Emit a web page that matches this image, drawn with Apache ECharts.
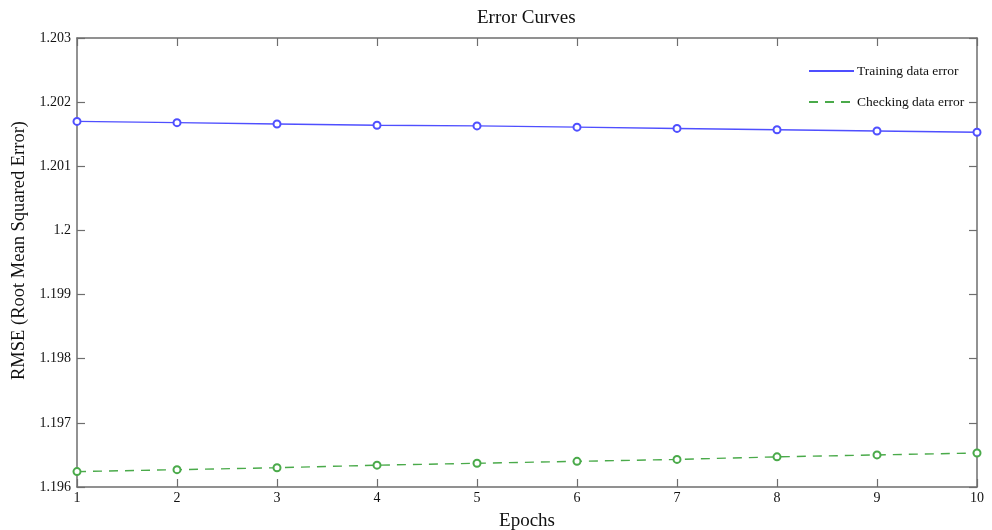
<!DOCTYPE html>
<html>
<head>
<meta charset="utf-8">
<script src="https://cdn.jsdelivr.net/npm/echarts@6/dist/echarts.min.js"></script>
<style>
  html, body { margin: 0; padding: 0; background: #fff; }
  #chart { width: 992px; height: 530px; }
</style>
</head>
<body>
<div id="chart"></div>
<script>
// Epoch numbers and RMSE per epoch
const epochs = [1, 2, 3, 4, 5, 6, 7, 8, 9, 10];
const trainingError = [1.20170, 1.20168, 1.20166, 1.20164, 1.20163, 1.20161, 1.20159, 1.20157, 1.20155, 1.20153];
const checkingError = [1.19624, 1.19627, 1.19630, 1.19634, 1.19637, 1.19640, 1.19643, 1.19647, 1.19650, 1.19653];
const yTicks = [1.196, 1.197, 1.198, 1.199, 1.2, 1.201, 1.202, 1.203];

const serif = '"Liberation Serif", "Times New Roman", serif';
const axisColor = '#6e6e6e';

function fmtY(v) {
  return String(parseFloat(v.toFixed(3)));
}

const chart = echarts.init(document.getElementById('chart'));
const frameAxisCommon = {
  axisLine: { show: true, lineStyle: { color: axisColor, width: 1.5 } },
  axisTick: { show: true, inside: true, length: 8, lineStyle: { color: axisColor, width: 1.2 } },
  splitLine: { show: false }
};

chart.setOption({
  animation: false,
  backgroundColor: '#fff',
  title: {
    text: 'Error Curves',
    left: 472,
    top: 4,
    textStyle: { fontFamily: serif, fontSize: 19, fontWeight: 'normal', color: '#111' }
  },
  legend: {
    orient: 'vertical',
    left: 803,
    top: 59,
    itemWidth: 45,
    itemHeight: 14,
    itemGap: 17,
    itemStyle: { opacity: 0 },
    textStyle: { fontFamily: serif, fontSize: 13.5, color: '#111', padding: [0, 0, 0, -2] },
    data: ['Training data error', 'Checking data error']
  },
  grid: { left: 77, right: 15, top: 38, bottom: 43, outerBoundsMode: 'none' },
  xAxis: [
    Object.assign({
      type: 'value', position: 'bottom', min: 1, max: 10, interval: 1,
      name: 'Epochs', nameLocation: 'middle', nameGap: 25,
      nameTextStyle: { fontFamily: serif, fontSize: 19, color: '#111' },
      axisLabel: { fontFamily: serif, fontSize: 14, color: '#111', margin: 4 }
    }, frameAxisCommon),
    Object.assign({
      type: 'value', position: 'top', min: 1, max: 10, interval: 1,
      axisLabel: { show: false }
    }, frameAxisCommon)
  ],
  yAxis: [
    Object.assign({
      type: 'value', position: 'left', min: yTicks[0], max: yTicks[yTicks.length - 1], interval: 0.001,
      name: 'RMSE (Root Mean Squared Error)', nameLocation: 'middle', nameGap: 45,
      nameTextStyle: { fontFamily: serif, fontSize: 18.5, color: '#111', padding: [0, 0, 0, 24] },
      axisLabel: { fontFamily: serif, fontSize: 14, color: '#111', margin: 6, formatter: fmtY }
    }, frameAxisCommon),
    Object.assign({
      type: 'value', position: 'right', min: yTicks[0], max: yTicks[yTicks.length - 1], interval: 0.001,
      axisLabel: { show: false }
    }, frameAxisCommon)
  ],
  series: [
    {
      name: 'Training data error',
      type: 'line',
      data: epochs.map((e, i) => [e, trainingError[i]]),
      symbol: 'emptyCircle',
      symbolSize: 7,
      showAllSymbol: true,
      color: '#4f4fff',
      lineStyle: { color: '#4f4fff', width: 1.4 },
      itemStyle: { color: '#4f4fff', borderWidth: 1.1 }
    },
    {
      name: 'Checking data error',
      type: 'line',
      data: epochs.map((e, i) => [e, checkingError[i]]),
      symbol: 'emptyCircle',
      symbolSize: 7,
      showAllSymbol: true,
      color: '#4aaa4a',
      lineStyle: { color: '#4aaa4a', width: 1.4, type: [9, 7] },
      itemStyle: { color: '#4aaa4a', borderWidth: 1.1 }
    }
  ]
});
</script>
</body>
</html>
